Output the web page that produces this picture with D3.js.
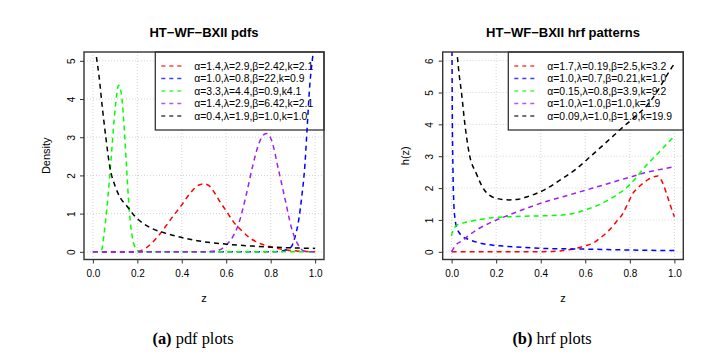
<!DOCTYPE html>
<html>
<head>
<meta charset="utf-8">
<script src="https://cdn.jsdelivr.net/npm/d3@7"></script>
<style>
  html, body { margin: 0; padding: 0; background: #fff; }
  svg { display: block; }
</style>
</head>
<body>
<svg id="chart" width="719" height="356"></svg>
<script>
// ---------- data ----------
const xTicks = [0, 0.2, 0.4, 0.6, 0.8, 1.0];
const xTickLabels = ["0.0", "0.2", "0.4", "0.6", "0.8", "1.0"];
const pdfYTicks = [0, 1, 2, 3, 4, 5];
const hrfYTicks = [0, 1, 2, 3, 4, 5, 6];

const seriesColors = ["#FF0000", "#0000FF", "#00FF00", "#A020F0", "#000000"];

const pdfLegend = [
  "α=1.4,λ=2.9,β=2.42,k=2.1",
  "α=1.0,λ=0.8,β=22,k=0.9",
  "α=3.3,λ=4.4,β=0.9,k4.1",
  "α=1.4,λ=2.9,β=6.42,k=2.1",
  "α=0.4,λ=1.9,β=1.0,k=1.0"
];
const hrfLegend = [
  "α=1.7,λ=0.19,β=2.5,k=3.2",
  "α=1.0,λ=0.7,β=0.21,k=1.0",
  "α=0.15,λ=0.8,β=3.9,k=9.2",
  "α=1.0,λ=1.0,β=1.0,k=1.9",
  "α=0.09,λ=1.0,β=1.9,k=19.9"
];

// pdf curves: [z, density]
const pdfRed = [[0,0],[0.1,0],[0.18,0],[0.215,0.03],[0.26,0.2],[0.305,0.49],[0.35,0.85],[0.40,1.23],[0.44,1.55],[0.478,1.75],[0.50,1.78],[0.525,1.72],[0.55,1.52],[0.572,1.31],[0.60,1.07],[0.632,0.79],[0.67,0.55],[0.707,0.36],[0.74,0.25],[0.78,0.16],[0.82,0.1],[0.87,0.05],[0.92,0.02],[0.96,0.01],[1.0,0]];
const pdfBlue = [[0,0],[0.5,0],[0.8,0],[0.856,0.03],[0.875,0.07],[0.894,0.14],[0.905,0.3],[0.916,0.53],[0.928,0.9],[0.939,1.40],[0.954,2.27],[0.964,3.23],[0.976,4.36],[0.988,5.05],[0.995,5.4],[1.0,5.7]];
const pdfGreen = [[0,0],[0.02,0],[0.039,0.05],[0.05,0.45],[0.063,1.14],[0.081,2.36],[0.096,3.49],[0.107,4.1],[0.115,4.36],[0.122,4.3],[0.13,4.05],[0.141,3.23],[0.151,2.27],[0.163,1.14],[0.178,0.36],[0.193,0.09],[0.21,0.01],[0.25,0],[0.6,0],[1.0,0]];
const pdfPurple = [[0,0],[0.3,0],[0.5,0],[0.55,0.02],[0.58,0.08],[0.60,0.18],[0.63,0.4],[0.654,0.70],[0.69,1.49],[0.72,2.27],[0.75,2.88],[0.78,3.10],[0.804,2.92],[0.834,2.18],[0.864,1.40],[0.894,0.62],[0.924,0.18],[0.946,0.03],[0.97,0],[1.0,0]];
const pdfBlack = [[0.016,5.1],[0.028,4.58],[0.043,3.75],[0.058,3.01],[0.076,2.23],[0.1,1.72],[0.125,1.4],[0.153,1.2],[0.186,0.95],[0.205,0.84],[0.238,0.70],[0.27,0.6],[0.32,0.50],[0.38,0.40],[0.47,0.29],[0.60,0.20],[0.72,0.15],[0.856,0.11],[1.0,0.09]];

// hrf curves: [z, h(z)]
const hrfRed = [[0,0],[0.3,0],[0.45,0.01],[0.5,0.04],[0.559,0.11],[0.60,0.19],[0.634,0.27],[0.67,0.45],[0.709,0.69],[0.74,0.95],[0.769,1.21],[0.79,1.5],[0.814,1.84],[0.835,2.0],[0.859,2.15],[0.885,2.28],[0.911,2.36],[0.925,2.38],[0.937,2.3],[0.95,2.12],[0.964,1.84],[0.98,1.5],[0.994,1.21],[1.0,1.1]];
const hrfBlue = [[0.001,8],[0.003,4.5],[0.006,2.6],[0.01,1.5],[0.015,1.05],[0.025,0.72],[0.035,0.59],[0.05,0.48],[0.08,0.38],[0.12,0.29],[0.17,0.22],[0.23,0.18],[0.29,0.15],[0.44,0.10],[0.56,0.09],[0.7,0.07],[0.85,0.05],[1.0,0.04]];
const hrfGreen = [[0,0.5],[0.004,0.64],[0.015,0.78],[0.027,0.85],[0.05,0.9],[0.08,0.95],[0.17,1.06],[0.29,1.11],[0.409,1.13],[0.507,1.16],[0.604,1.32],[0.709,1.65],[0.799,2.10],[0.87,2.68],[0.934,3.15],[1.0,3.63]];
const hrfPurple = [[0,0],[0.02,0.22],[0.044,0.33],[0.08,0.53],[0.12,0.72],[0.17,0.90],[0.259,1.16],[0.349,1.40],[0.439,1.61],[0.5,1.73],[0.634,2.0],[0.784,2.31],[0.88,2.5],[1.0,2.67]];
const hrfBlack = [[0.026,6.11],[0.035,5.5],[0.044,5.02],[0.058,4.1],[0.08,3.05],[0.11,2.47],[0.147,1.94],[0.2,1.68],[0.259,1.63],[0.3,1.65],[0.34,1.73],[0.418,1.95],[0.486,2.25],[0.559,2.60],[0.634,3.06],[0.709,3.53],[0.762,3.87],[0.82,4.22],[0.88,4.62],[0.92,5.0],[0.95,5.35],[0.985,5.75],[1.0,5.9]];

const pdfSeries = [pdfRed, pdfBlue, pdfGreen, pdfPurple, pdfBlack];
const hrfSeries = [hrfRed, hrfBlue, hrfGreen, hrfPurple, hrfBlack];

// ---------- drawing ----------
const svg = d3.select("#chart");
const FONT = "'Liberation Sans', Arial, sans-serif";

function drawPanel(opt) {
  const g = svg.append("g");
  const x = d3.scaleLinear().domain([-0.04, 1.04]).range([opt.left, opt.right]);
  const y = d3.scaleLinear().domain([-0.04 * opt.ymax, 1.04 * opt.ymax]).range([opt.bottom, opt.top]);

  const clipId = "clip-" + opt.id;
  svg.append("clipPath").attr("id", clipId).append("rect")
    .attr("x", opt.left).attr("y", opt.top)
    .attr("width", opt.right - opt.left).attr("height", opt.bottom - opt.top);

  // grid
  g.selectAll(".vg").data(xTicks).enter().append("line")
    .attr("x1", d => x(d)).attr("x2", d => x(d))
    .attr("y1", opt.top).attr("y2", opt.bottom)
    .attr("stroke", "#D3D3D3").attr("stroke-width", 1).attr("stroke-dasharray", "1,2");
  g.selectAll(".hg").data(opt.yTicks).enter().append("line")
    .attr("x1", opt.left).attr("x2", opt.right)
    .attr("y1", d => y(d)).attr("y2", d => y(d))
    .attr("stroke", "#D3D3D3").attr("stroke-width", 1).attr("stroke-dasharray", "1,2");

  // legend box
  const lg = g.append("g");
  lg.append("rect")
    .attr("x", opt.legLeft).attr("y", opt.top)
    .attr("width", opt.right - opt.legLeft).attr("height", 78)
    .attr("fill", "#fff").attr("stroke", "#333").attr("stroke-width", 1.3);
  opt.legend.forEach((t, i) => {
    const yy = opt.top + 14 + i * 12.5;
    lg.append("line")
      .attr("x1", opt.legLeft + opt.segStart).attr("x2", opt.legLeft + opt.segStart + 23)
      .attr("y1", yy).attr("y2", yy)
      .attr("stroke", seriesColors[i]).attr("stroke-width", 1.6)
      .attr("stroke-dasharray", "4,4").attr("opacity", 0.75);
    lg.append("text")
      .attr("x", opt.legLeft + opt.textStart).attr("y", yy)
      .attr("dy", "0.35em")
      .attr("font-family", FONT).attr("font-size", "10.4px").attr("fill", "#000")
      .text(t);
  });

  // curves
  const line = d3.line().x(d => x(d[0])).y(d => y(d[1])).curve(d3.curveMonotoneX);
  opt.series.forEach((s, i) => {
    g.append("path").datum(s)
      .attr("d", line)
      .attr("clip-path", "url(#" + clipId + ")")
      .attr("fill", "none")
      .attr("stroke", seriesColors[i])
      .attr("stroke-width", 1.5)
      .attr("stroke-dasharray", "5,4");
  });

  // box
  g.append("rect")
    .attr("x", opt.left).attr("y", opt.top)
    .attr("width", opt.right - opt.left).attr("height", opt.bottom - opt.top)
    .attr("fill", "none").attr("stroke", "#333").attr("stroke-width", 1.4);

  // x axis
  const xa = g.append("g").attr("transform", `translate(0,${opt.bottom})`)
    .call(d3.axisBottom(x).tickValues(xTicks).tickSize(4).tickPadding(6)
      .tickFormat((d, i) => xTickLabels[i]));
  xa.select(".domain").remove();
  xa.selectAll("line").attr("stroke", "#333");
  xa.selectAll("text").attr("font-family", FONT).attr("font-size", "10px").attr("fill", "#000");

  // y axis (labels rotated like R)
  const ya = g.append("g").attr("transform", `translate(${opt.left},0)`)
    .call(d3.axisLeft(y).tickValues(opt.yTicks).tickSize(4).tickFormat(d3.format("d")));
  ya.select(".domain").remove();
  ya.selectAll("line").attr("stroke", "#333");
  ya.selectAll("text")
    .attr("font-family", FONT).attr("font-size", "10px").attr("fill", "#000")
    .attr("x", null).attr("dy", null)
    .attr("text-anchor", "middle")
    .attr("transform", "translate(-13,0) rotate(-90)")
    .attr("y", 0).attr("dy", "0.35em");

  // title
  g.append("text")
    .attr("x", opt.titleX).attr("y", 32).attr("dy", "0.35em")
    .attr("text-anchor", "middle")
    .attr("font-family", FONT).attr("font-weight", "bold").attr("font-size", "13px")
    .text(opt.title);

  // x label
  g.append("text")
    .attr("x", (x(0) + x(1)) / 2).attr("y", 298).attr("dy", "0.35em")
    .attr("text-anchor", "middle")
    .attr("font-family", FONT).attr("font-size", "11px")
    .text("z");

  // y label
  g.append("text")
    .attr("transform", `translate(${opt.ylabX},${(opt.top + opt.bottom) / 2}) rotate(-90)`)
    .attr("dy", "0.35em")
    .attr("text-anchor", "middle")
    .attr("font-family", FONT).attr("font-size", "11px")
    .text(opt.ylab);

  // caption
  const cap = g.append("text")
    .attr("x", opt.capX).attr("y", 338).attr("dy", "0.35em")
    .attr("text-anchor", "middle")
    .attr("font-family", "'Liberation Serif', 'Times New Roman', serif")
    .attr("font-size", "16.4px").attr("fill", "#000");
  cap.append("tspan").attr("font-weight", "bold").text(opt.capBold);
  cap.append("tspan").text(opt.capRest);
}

drawPanel({
  id: "pdf", left: 84, right: 324, top: 52, bottom: 259.5, ymax: 5.03,
  yTicks: pdfYTicks, series: pdfSeries, legend: pdfLegend,
  legLeft: 155.3, segStart: 6, textStart: 39,
  title: "HT−WF−BXII pdfs", titleX: 204,
  ylab: "Density", ylabX: 46,
  capX: 193, capBold: "(a)", capRest: " pdf plots"
});

drawPanel({
  id: "hrf", left: 442.7, right: 683.3, top: 52, bottom: 259.5, ymax: 6.03,
  yTicks: hrfYTicks, series: hrfSeries, legend: hrfLegend,
  legLeft: 508.3, segStart: 6, textStart: 39,
  title: "HT−WF−BXII hrf patterns", titleX: 563,
  ylab: "h(z)", ylabX: 405,
  capX: 552, capBold: "(b)", capRest: " hrf plots"
});
</script>
</body>
</html>
